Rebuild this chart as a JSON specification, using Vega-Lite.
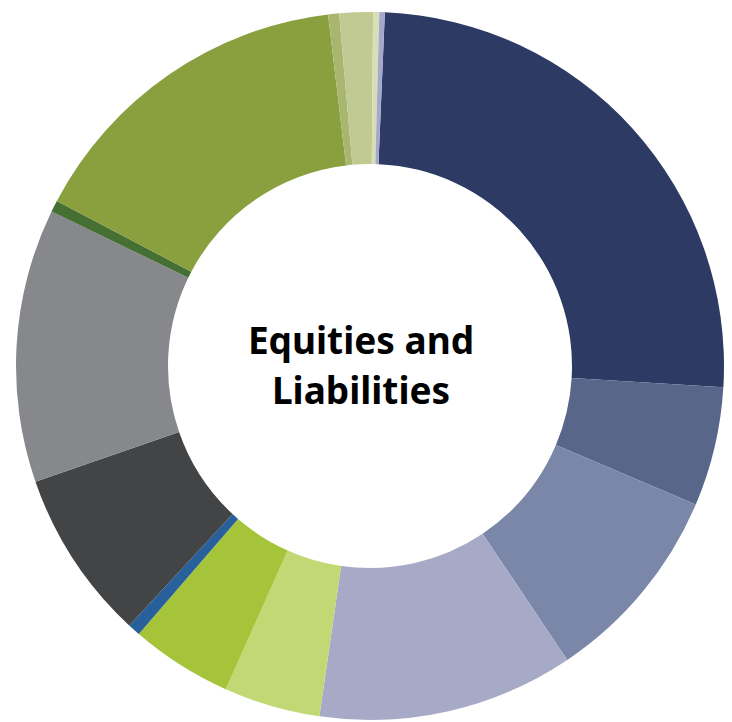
{
  "$schema": "https://vega.github.io/schema/vega-lite/v6.json",
  "autosize": {"type": "none"},
  "padding": {"left": 8, "top": 10, "right": 0, "bottom": 0},
  "width": 724,
  "height": 712,
  "background": "white",
  "view": {"stroke": null},
  "data": {
    "values": [
      {"k": 1, "item": "A1", "value": 25.3},
      {"k": 2, "item": "A2", "value": 5.45},
      {"k": 3, "item": "A3", "value": 9.2},
      {"k": 4, "item": "A4", "value": 11.7},
      {"k": 5, "item": "A5", "value": 4.4},
      {"k": 6, "item": "A6", "value": 4.65},
      {"k": 7, "item": "A7", "value": 0.58},
      {"k": 8, "item": "A8", "value": 7.8},
      {"k": 9, "item": "A9", "value": 12.5},
      {"k": 10, "item": "A10", "value": 0.53},
      {"k": 11, "item": "A11", "value": 15.4},
      {"k": 12, "item": "A12", "value": 0.5},
      {"k": 13, "item": "A13", "value": 1.53},
      {"k": 14, "item": "A14", "value": 0.28},
      {"k": 15, "item": "A15", "value": 0.25}
    ]
  },
  "layer": [
    {
      "mark": {"type": "arc", "outerRadius": 354, "innerRadius": 202},
      "encoding": {
        "theta": {"field": "value", "type": "quantitative", "stack": true, "scale": {"range": [0.042, 6.3252]}},
        "order": {"field": "k", "type": "quantitative"},
        "color": {
          "field": "item", "type": "nominal", "legend": null,
          "scale": {
            "domain": ["A1","A2","A3","A4","A5","A6","A7","A8","A9","A10","A11","A12","A13","A14","A15"],
            "range": ["#2c3a64","#586689","#7a87a8","#a7aac7","#c2d874","#a6c43a","#27609a","#434446","#87888c","#456f33","#8aa03e","#a9b670","#c1ca93","#d8dfb5","#a4a9cb"]
          }
        }
      }
    },
    {
      "data": {"values": [{"label": ["Equities and", "Liabilities"]}]},
      "mark": {"type": "text", "font": "Noto Sans", "fontWeight": "bold", "fontSize": 37, "lineHeight": 50, "align": "center", "baseline": "middle", "dx": -9, "dy": -23, "color": "#000000"},
      "encoding": {"text": {"field": "label"}}
    }
  ]
}
